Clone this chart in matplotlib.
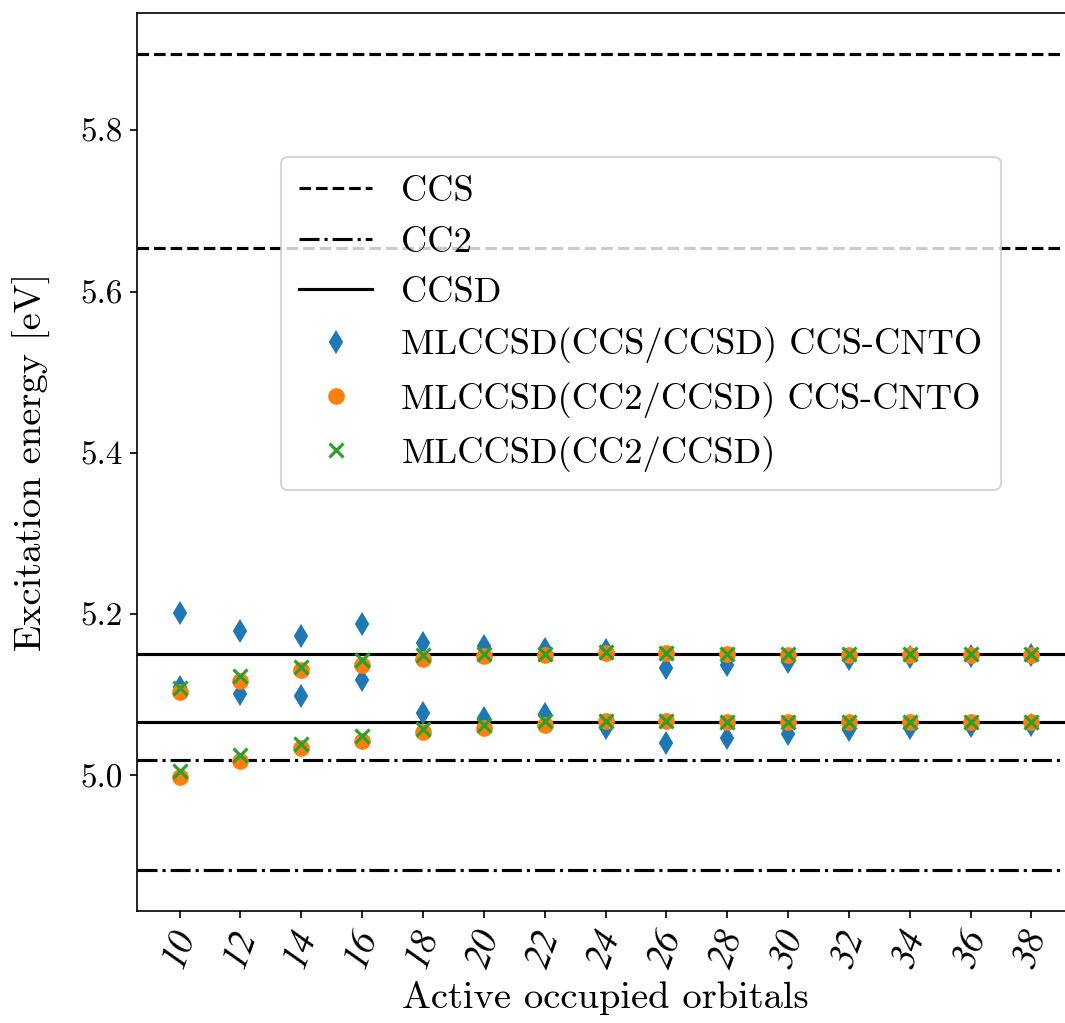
import numpy as np
import matplotlib
matplotlib.use("Agg")
import matplotlib.pyplot as plt

plt.rcParams['font.family'] = 'serif'
plt.rcParams['font.serif'] = ['cmr10', 'DejaVu Serif']
plt.rcParams['mathtext.fontset'] = 'cm'
plt.rcParams['axes.unicode_minus'] = False
plt.rcParams['font.size'] = 16

orbitals = [10, 12, 14, 16, 18, 20, 22, 24, 26, 28, 30, 32, 34, 36, 38]

# reference energies (two states each)
ccs_ref = [5.895, 5.654]
cc2_ref = [5.0194, 4.8826]
ccsd_ref = [5.1506, 5.0664]

# MLCCSD(CCS/CCSD) CCS-CNTO
ccs_cnto_s1 = [5.201, 5.179, 5.173, 5.188, 5.164, 5.161, 5.157, 5.156,
               5.133, 5.137, 5.141, 5.145, 5.147, 5.148, 5.149]
ccs_cnto_s2 = [5.110, 5.101, 5.098, 5.119, 5.078, 5.071, 5.076, 5.059,
               5.040, 5.046, 5.052, 5.056, 5.059, 5.061, 5.063]
# MLCCSD(CC2/CCSD) CCS-CNTO
cc2_cnto_s1 = [5.103, 5.117, 5.131, 5.137, 5.145, 5.148, 5.149, 5.152,
               5.152, 5.151, 5.150, 5.150, 5.150, 5.150, 5.150]
cc2_cnto_s2 = [4.998, 5.018, 5.034, 5.043, 5.054, 5.059, 5.063, 5.067,
               5.068, 5.066, 5.066, 5.066, 5.066, 5.066, 5.066]
# MLCCSD(CC2/CCSD)
cc2_s1 = [5.108, 5.123, 5.134, 5.143, 5.150, 5.151, 5.151, 5.153,
          5.152, 5.151, 5.151, 5.151, 5.151, 5.151, 5.151]
cc2_s2 = [5.006, 5.025, 5.039, 5.049, 5.058, 5.063, 5.067, 5.068,
          5.068, 5.066, 5.066, 5.066, 5.066, 5.066, 5.066]

fig = plt.figure(figsize=(1065 / 150, 1023 / 150), dpi=150)
ax = fig.add_axes([0.1286, 0.1095, 0.8799, 0.8778])

for i, e in enumerate(ccs_ref):
    ax.axhline(e, color='k', linestyle='--', label='CCS' if i == 0 else None)
for i, e in enumerate(cc2_ref):
    ax.axhline(e, color='k', linestyle='-.', label='CC2' if i == 0 else None)
for i, e in enumerate(ccsd_ref):
    ax.axhline(e, color='k', linestyle='-', label='CCSD' if i == 0 else None)

ax.plot(orbitals, ccs_cnto_s1, 'd', color='C0', ms=7,
        label='MLCCSD(CCS/CCSD) CCS-CNTO')
ax.plot(orbitals, ccs_cnto_s2, 'd', color='C0', ms=7)
ax.plot(orbitals, cc2_cnto_s1, 'o', color='C1', ms=7,
        label='MLCCSD(CC2/CCSD) CCS-CNTO')
ax.plot(orbitals, cc2_cnto_s2, 'o', color='C1', ms=7)
ax.plot(orbitals, cc2_s1, 'x', color='C2', ms=7, mew=1.5,
        label='MLCCSD(CC2/CCSD)')
ax.plot(orbitals, cc2_s2, 'x', color='C2', ms=7, mew=1.5)

ax.set_xticks(orbitals)
ax.set_xticklabels([str(o) for o in orbitals], rotation=70,
                   family='STIXGeneral', style='italic', fontsize=18)
ax.set_yticks([5.0, 5.2, 5.4, 5.6, 5.8])
ax.set_yticklabels(['5.0', '5.2', '5.4', '5.6', '5.8'])

ax.set_xlabel('Active occupied orbitals', fontsize=18.5, labelpad=4)
ax.set_ylabel('Excitation energy [eV]', fontsize=18.5, labelpad=14)

ax.legend(loc='upper left', bbox_to_anchor=(281 / 1065, 1 - 157 / 1023),
          bbox_transform=fig.transFigure, borderaxespad=0,
          fontsize=17.5, labelspacing=0.5, borderpad=0.5)

fig.savefig('out.png', dpi=150)
